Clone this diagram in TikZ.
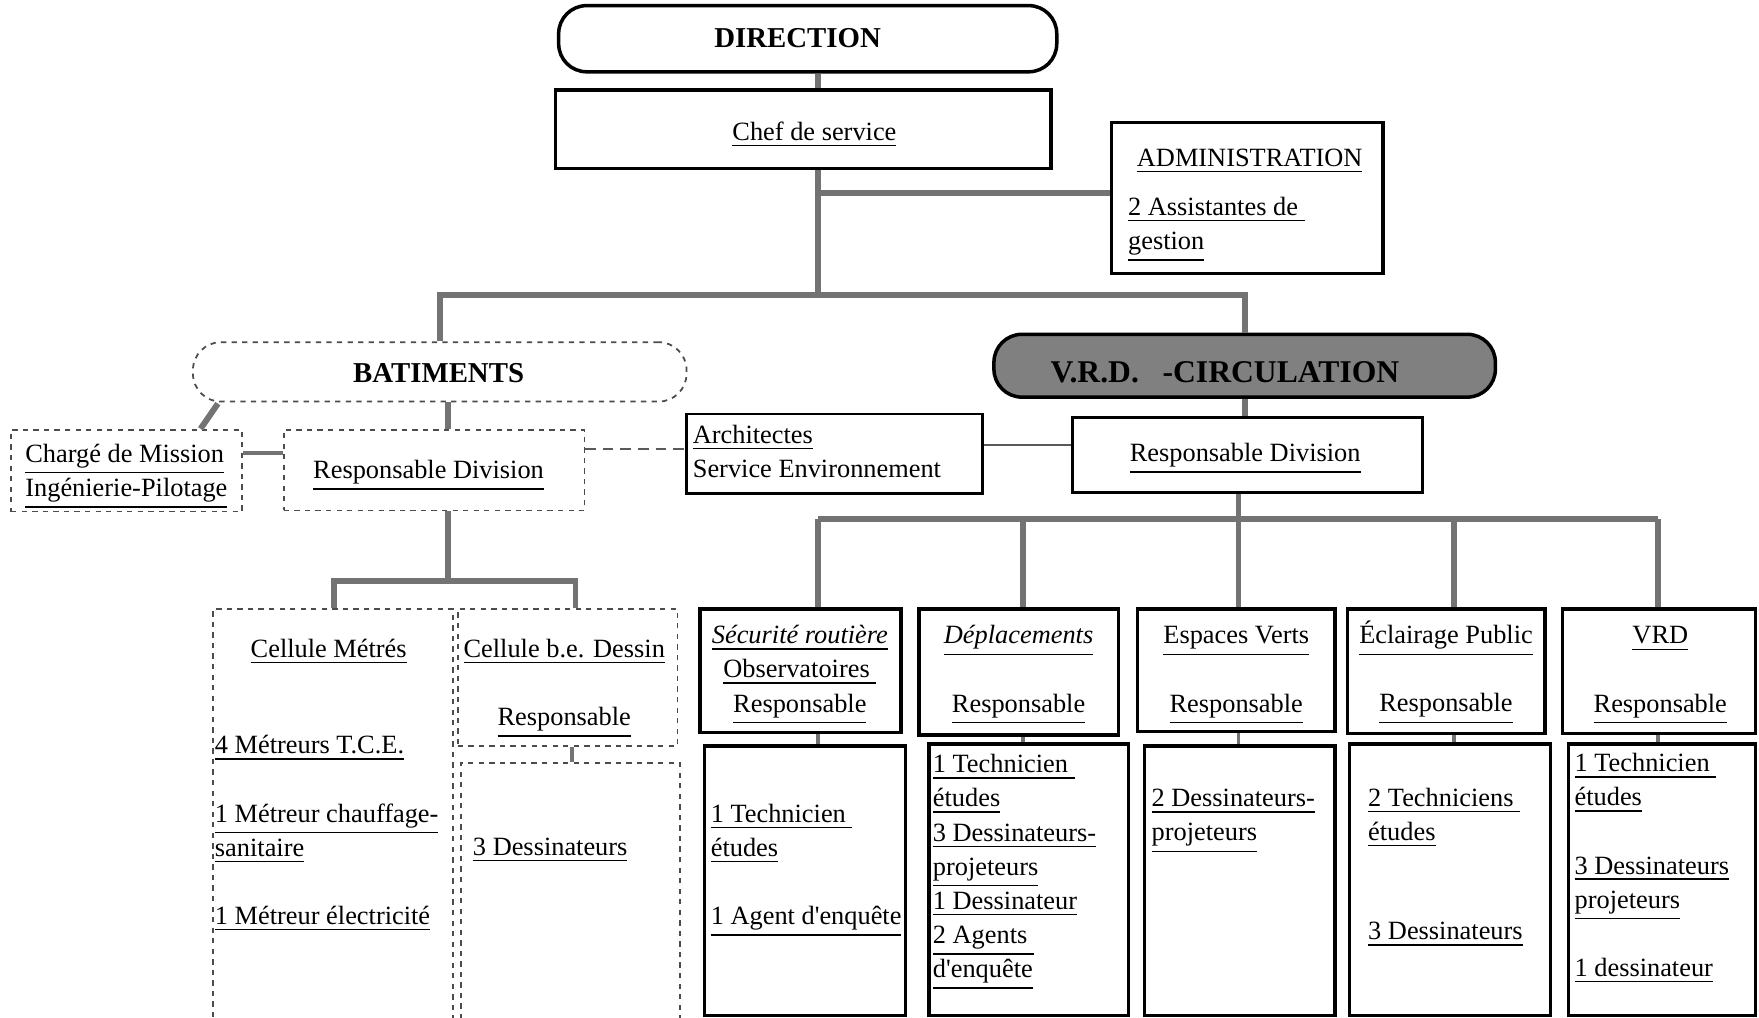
\documentclass[tikz,border=0pt]{standalone}
\usepackage{fontspec}
\setmainfont{Liberation Serif}
\usepackage{tikz}
\usetikzlibrary{calc, fit}

\newcommand{\uln}[1]{\underline{#1}}
\newcommand{\apos}{\textquotesingle}

\tikzset{
    box/.style={draw, line width=1pt, inner sep=0pt},
    dbox/.style={draw=black!70, line width=0.5pt, dash pattern=on 1.5pt off 1.5pt, inner sep=0pt},
    pill/.style={box, rounded corners=2.8mm},
    txt/.style={font=\fontsize{7.5}{9.7}\selectfont, inner sep=0pt},
    ttl/.style={font=\fontsize{8.2}{10}\selectfont\bfseries, inner sep=0pt},
    link/.style={draw=black!55, line width=1.7pt},
    fine/.style={draw=black!65, line width=0.5pt}
}

\begin{document}
\begin{tikzpicture}[x=0.11218mm, y=-0.11218mm]
    \fill[white] (0,0) rectangle (1568,907);
    \useasboundingbox (0,0) rectangle (1568,907);

    \node[pill, fit={(498,5) (942,64)}] (direction) {};
    \node[ttl] at (711,34) {DIRECTION};
    \node[box, fit={(495,80) (937,150)}] (chef) {};
    \node[txt] at (726,120) {\uln{Chef de service}};
    \node[box, fit={(991,109) (1233,244)}] (admin) {};
    \node[txt, anchor=north] at (1114,132) {\uln{ADMINISTRATION}};
    \node[txt, anchor=north west, align=left] at (1005,175) {\uln{2 Assistantes de\ }\\ \uln{gestion}};

    \node[dbox, rounded corners=2.8mm, fit={(172,305) (612,358)}] (batiments) {};
    \node[ttl] at (391,333) {BATIMENTS};
    \node[pill, fill=black!50, fit={(886,298) (1333,354)}] (vrd) {};
    \node[ttl, font=\fontsize{9}{10}\selectfont\bfseries] at (1092,332) {V.R.D.\enspace\ -CIRCULATION};

    \node[dbox, fit={(10,383) (216,456)}] (charge) {};
    \node[txt, anchor=north west, align=left] at (22,395) {\uln{Chargé de Mission}\\ \uln{Ingénierie-Pilotage}};
    \node[dbox, fit={(253,383) (521,455)}] (respb) {};
    \node[txt] at (382,424) {\uln{Responsable Division}};
    \node[box, line width=0.8pt, fit={(612,369) (876,440)}] (archi) {};
    \node[txt, anchor=north west, align=left] at (617,378) {\uln{Architectes}\\ Service Environnement};
    \node[box, fit={(956,372) (1268,439)}] (respv) {};
    \node[txt] at (1110,409) {\uln{Responsable Division}};

    \node[dbox, fit={(190,543) (404,912)}] (metres) {};
    \node[txt, anchor=north] at (293,569) {\uln{Cellule Métrés}};
    \node[txt, anchor=north west, align=left] at (191,655) {\uln{4 Métreurs T.C.E.}\\[9.7pt] \uln{1 Métreur chauffage-}\\ \uln{sanitaire}\\[9.7pt] \uln{1 Métreur électricité}};
    \node[dbox, fit={(408,543) (604,665)}] (dessin) {};
    \node[txt, anchor=north, align=center] at (503,569) {\uln{Cellule b.e. Dessin}\\[9.7pt] \uln{Responsable}};
    \node[dbox, fit={(411,680) (606,912)}] (dessin2) {};
    \node[txt, anchor=north west] at (421,746) {\uln{3 Dessinateurs}};

    \node[box, fit={(624,543) (803,653)}] (secu) {};
    \node[box, fit={(819,543) (997,655)}] (depl) {};
    \node[box, fit={(1014,543) (1190,652)}] (espv) {};
    \node[box, fit={(1201,543) (1377,654)}] (ecl) {};
    \node[box, fit={(1393,543) (1565,654)}] (vrds) {};
    \node[txt, anchor=north, align=center] at (713,557) {\textit{\uln{Sécurité routière}}\\ \uln{Observatoires\ }\\ \uln{Responsable}};
    \node[txt, anchor=north, align=center] at (908,557) {\textit{\uln{Déplacements}}\\[9.7pt] \uln{Responsable}};
    \node[txt, anchor=north, align=center] at (1102,558) {\uln{Espaces Verts}\\[9.7pt] \uln{Responsable}};
    \node[txt, anchor=north, align=center] at (1289,553) {\uln{Éclairage Public}\\[9.7pt] \uln{Responsable}};
    \node[txt, anchor=north, align=center] at (1480,558) {\uln{VRD}\\[9.7pt] \uln{Responsable}};

    \node[box, fit={(628,665) (807,905)}] (secu2) {};
    \node[box, fit={(828,663) (1006,905)}] (depl2) {};
    \node[box, fit={(1020,665) (1190,905)}] (espv2) {};
    \node[box, fit={(1203,663) (1382,905)}] (ecl2) {};
    \node[box, fit={(1398,663) (1565,905)}] (vrds2) {};
    \node[txt, anchor=north west, align=left] at (633,716) {\uln{1 Technicien\ }\\ \uln{études}\\[9.7pt] \uln{1 Agent d\apos enquête}};
    \node[txt, anchor=north west, align=left] at (831,672) {\uln{1 Technicien\ }\\ \uln{études}\\ \uln{3 Dessinateurs-}\\ \uln{projeteurs}\\ \uln{1 Dessinateur}\\ \uln{2 Agents\ }\\ \uln{d\apos enquête}};
    \node[txt, anchor=north west, align=left] at (1026,703) {\uln{2 Dessinateurs-}\\ \uln{projeteurs}};
    \node[txt, anchor=north west, align=left] at (1219,702) {\uln{2 Techniciens\ }\\ \uln{études}\\[18.5pt] \uln{3 Dessinateurs}};
    \node[txt, anchor=north west, align=left] at (1403,671) {\uln{1 Technicien\ }\\ \uln{études}\\[9.7pt] \uln{3 Dessinateurs}\\ \uln{projeteurs}\\[9.7pt] \uln{1 dessinateur}};

    \draw[link] (729,0 |- direction.south) -- (729,0 |- chef.north);
    \draw[link] (729,0 |- chef.south) -- (729,263);
    \draw[link] (729,172) -- (admin.west |- 0,172);
    \draw[link] (batiments.north) -- (batiments.north |- 0,263) -- (vrd.north |- 0,263) -- (vrd.north);

    \draw[link] (399,0 |- batiments.south) -- (399,0 |- respb.north);
    \draw[link] ($(batiments.south west)+(23,1)$) -- ($(charge.north east)+(-38,0)$);
    \draw[link, line width=1.2pt] (charge.east |- 0,404) -- (respb.west |- 0,404);
    \draw[fine, densely dashed] (respb.east |- 0,400) -- (archi.west |- 0,400);
    \draw[fine] (archi.east |- 0,397) -- (respv.west |- 0,397);
    \draw[link] (vrd.south) -- (vrd.south |- respv.north);

    \draw[link] (399,0 |- respb.south) -- (399,518);
    \draw[link] (metres.north -| 298,0) -- (298,518) -- (513,518) -- (513,0 |- dessin.north);
    \draw[link, line width=1pt] (510,0 |- dessin.south) -- (510,0 |- dessin2.north);

    \draw[link] (1104,0 |- respv.south) -- (1104,463);
    \draw[link] (729,463) -- (1478,463);
    \foreach \n/\x in {secu/729, depl/912, espv/1104, ecl/1296, vrds/1478} {
        \draw[link] (\x,463) -- (\x,0 |- \n.north);
        \draw[link, line width=1pt] (\x,0 |- \n.south) -- (\x,0 |- \n2.north);
    }
\end{tikzpicture}
\end{document}
